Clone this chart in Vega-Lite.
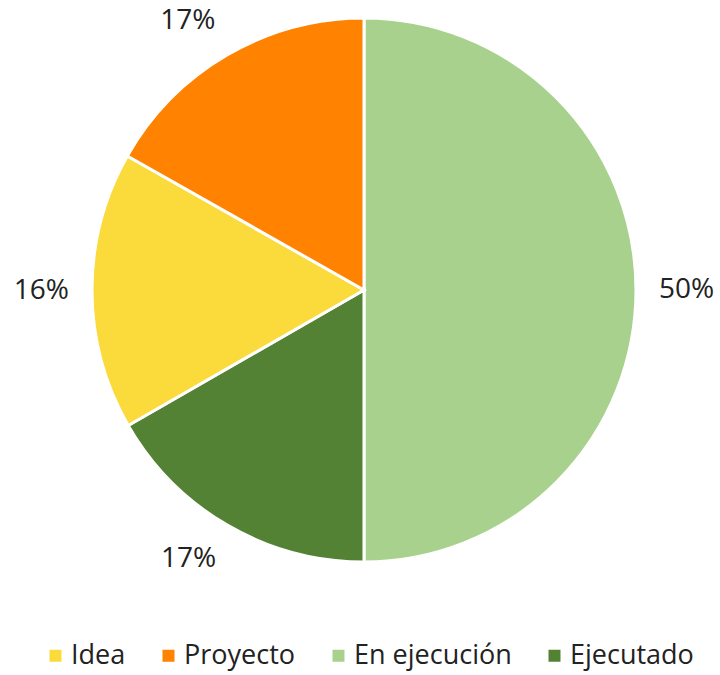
{
  "$schema": "https://vega.github.io/schema/vega-lite/v6.json",
  "width": 720,
  "height": 675,
  "autosize": "none",
  "padding": 0,
  "background": "white",
  "data": {
    "values": [
      {"estado": "En ejecución", "valor": 50.0, "etiqueta": "50%", "orden": 1},
      {"estado": "Ejecutado", "valor": 16.7, "etiqueta": "17%", "orden": 2},
      {"estado": "Idea", "valor": 16.5, "etiqueta": "16%", "orden": 3},
      {"estado": "Proyecto", "valor": 16.8, "etiqueta": "17%", "orden": 4}
    ]
  },
  "encoding": {
    "theta": {"field": "valor", "type": "quantitative", "stack": true},
    "order": {"field": "orden", "type": "quantitative"}
  },
  "layer": [
    {
      "mark": {"type": "arc", "outerRadius": 272, "x": 364, "y": 290, "stroke": "white", "strokeWidth": 3},
      "encoding": {
        "color": {
          "field": "estado",
          "type": "nominal",
          "scale": {
            "domain": ["Idea", "Proyecto", "En ejecución", "Ejecutado"],
            "range": ["#FBDA3C", "#FF8200", "#A9D18E", "#548235"]
          },
          "legend": {
            "title": null,
            "orient": "none",
            "direction": "horizontal",
            "legendX": 42,
            "legendY": 642,
            "symbolType": "square",
            "symbolSize": 144,
            "symbolStrokeWidth": 0,
            "labelFont": "Open Sans",
            "labelFontSize": 27,
            "labelColor": "#222222",
            "labelOffset": 2,
            "columnPadding": 29
          }
        }
      }
    },
    {
      "mark": {
        "type": "text",
        "radius": 295,
        "x": 364,
        "y": 290,
        "font": "Open Sans",
        "fontSize": 28,
        "color": "#222222",
        "align": {"expr": "(datum.valor_start + datum.valor_end) / 2 < 50 ? 'left' : 'right'"},
        "baseline": {"expr": "cos(PI * (datum.valor_start + datum.valor_end) / 100) > 0.5 ? 'bottom' : (cos(PI * (datum.valor_start + datum.valor_end) / 100) < -0.5 ? 'top' : 'middle')"}
      },
      "encoding": {
        "text": {"field": "etiqueta", "type": "nominal"}
      }
    }
  ],
  "config": {"view": {"stroke": null}}
}
